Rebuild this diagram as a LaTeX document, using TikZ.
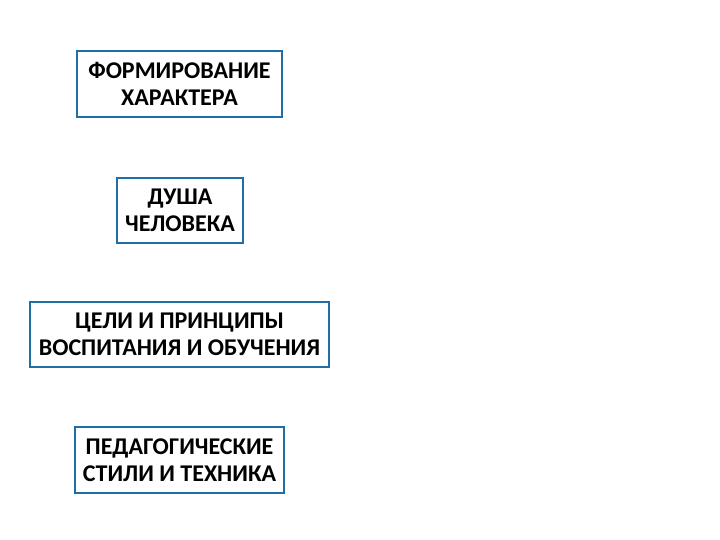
\documentclass[tikz,border=0pt]{standalone}
\usepackage{fontspec}
\setmainfont{Carlito}
\begin{document}
\begin{tikzpicture}[x=1pt,y=-1pt,
  box/.style={draw=boxblue,line width=2.5pt,align=center,inner sep=0pt,font=\bfseries\fontsize{24}{27}\selectfont}]
\definecolor{boxblue}{HTML}{1F6EA6}
\useasboundingbox (0,0) rectangle (720,540);
\node[box,minimum width=205,minimum height=66] (a) at (179.5,84) {ФОРМИРОВАНИЕ\\ХАРАКТЕРА};
\node[box,minimum width=126,minimum height=65] (b) at (180,210.5) {ДУША\\ЧЕЛОВЕКА};
\node[box,minimum width=299,minimum height=65] (c) at (179.5,334.5) {ЦЕЛИ И ПРИНЦИПЫ\\ВОСПИТАНИЯ И ОБУЧЕНИЯ};
\node[box,minimum width=209,minimum height=66] (d) at (179.5,460) {ПЕДАГОГИЧЕСКИЕ\\СТИЛИ И ТЕХНИКА};
\end{tikzpicture}
\end{document}
